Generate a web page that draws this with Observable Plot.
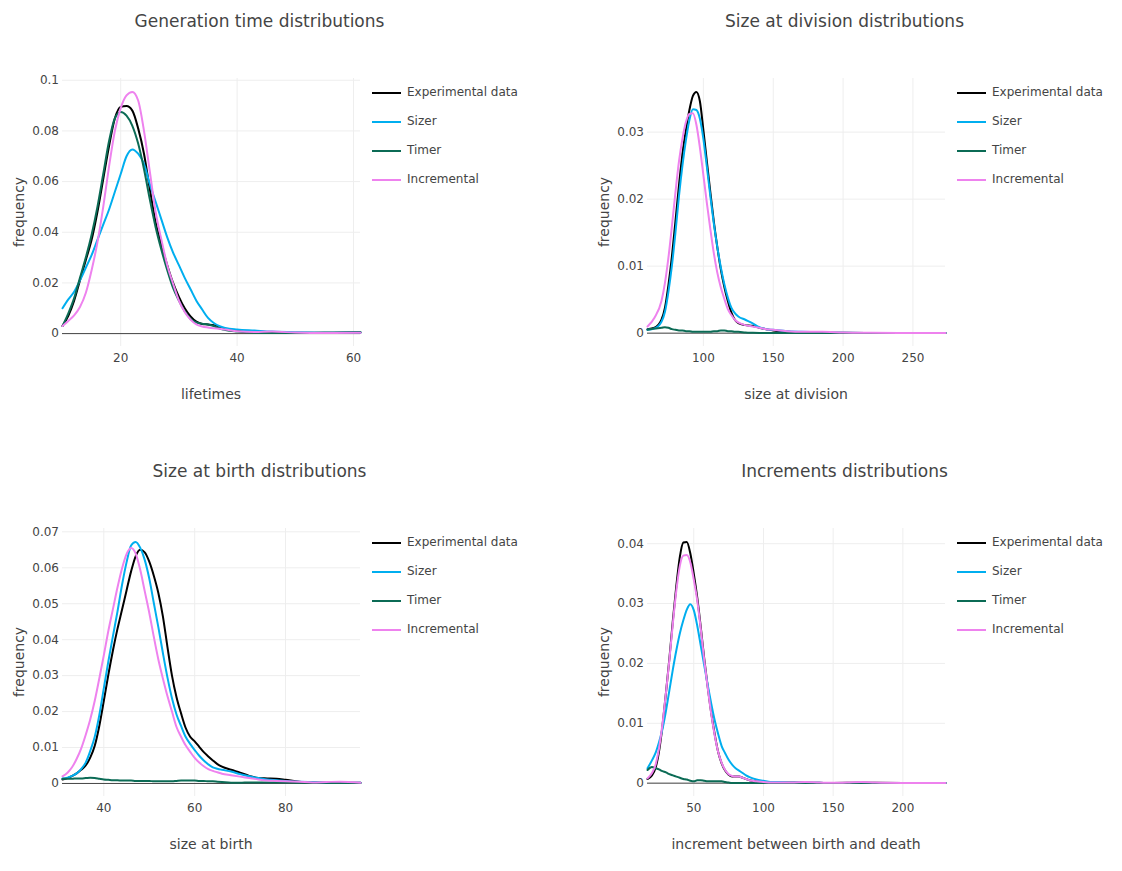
<!DOCTYPE html>
<html>
<head>
<meta charset="utf-8">
<script src="https://cdn.jsdelivr.net/npm/d3@7"></script>
<script src="https://cdn.jsdelivr.net/npm/@observablehq/plot@0.6"></script>
<style>
  body { margin: 0; background: #fff; }
  #root { position: relative; width: 1122px; height: 871px; font-family: "DejaVu Sans", Verdana, sans-serif; color: #444; }
  .panel { position: absolute; }
  .title { position: absolute; font-size: 17px; white-space: nowrap; transform: translate(-50%, -50%); }
  .xtitle { position: absolute; font-size: 14px; white-space: nowrap; transform: translate(-50%, -50%); }
  .ytitle { position: absolute; font-size: 14px; white-space: nowrap; transform: translate(-50%, -50%) rotate(-90deg); }
  .legend { position: absolute; font-size: 12px; }
  .legend .row { position: absolute; left: 0; height: 20px; white-space: nowrap; }
  .legend svg { position: absolute; left: 0; top: 0; }
  .legend span { position: absolute; left: 35px; top: 2px; }
</style>
</head>
<body>
<div id="root"></div>
<script>
// ---- series ----
const seriesNames = ["Experimental data", "Sizer", "Timer", "Incremental"];
const seriesColors = ["#000000", "#00aeef", "#0b6b55", "#ee82ee"];

// ---- Generation time (lifetimes) ----
const genX = [10,11,12,13,14,15,16,17,18,19,20,21,22,23,24,25,26,27,28,29,30,31,32,33,34,35,36,37,38,40,43,46,50,55,61.2];
const genExp = [0.003,0.007,0.013,0.021,0.029,0.037,0.048,0.061,0.074,0.085,0.0895,0.0898,0.088,0.081,0.071,0.057,0.044,0.035,0.027,0.020,0.0145,0.010,0.0068,0.0047,0.0038,0.0036,0.0033,0.0024,0.0017,0.0012,0.0008,0.0005,0.0003,0.0003,0.0004];
const genSizer = [0.010,0.0135,0.0165,0.021,0.026,0.031,0.037,0.043,0.049,0.056,0.063,0.070,0.0727,0.071,0.067,0.059,0.052,0.045,0.038,0.032,0.027,0.022,0.0175,0.013,0.0095,0.0062,0.0042,0.0029,0.0022,0.0016,0.0012,0.0008,0.0005,0.0003,0.0004];
const genTimer = [0.003,0.008,0.014,0.022,0.030,0.039,0.050,0.063,0.076,0.085,0.0875,0.086,0.082,0.075,0.065,0.053,0.042,0.033,0.025,0.018,0.013,0.0088,0.0058,0.0044,0.0039,0.0036,0.0030,0.0020,0.0014,0.0008,0.0003,0.0002,0.0002,0.0003,0.0005];
const genIncr = [0.003,0.005,0.0072,0.0105,0.016,0.025,0.036,0.050,0.066,0.080,0.089,0.094,0.0954,0.092,0.080,0.064,0.048,0.037,0.027,0.0197,0.013,0.0085,0.0055,0.0036,0.0028,0.0024,0.0021,0.0019,0.0016,0.0009,0.0006,0.0008,0.0004,0.0002,0.0003];
const genXTicks = [20, 40, 60];
const genYTicks = [0, 0.02, 0.04, 0.06, 0.08, 0.1];

// ---- Size at division ----
const divX = [60,65,70,72.5,75,77.5,80,82.5,85,87.5,90,92.5,95,97.5,100,102.5,105,107.5,110,112.5,115,117.5,120,122.5,125,130,135,140,145,150,160,170,185,200,220,240,273.3];
const divExp = [0.0006,0.0008,0.0020,0.0038,0.0072,0.0115,0.0167,0.0220,0.0267,0.0303,0.0333,0.0354,0.0360,0.0346,0.0303,0.0256,0.0210,0.0166,0.0128,0.0095,0.0069,0.0048,0.0031,0.0020,0.0015,0.0012,0.0011,0.0008,0.0006,0.0004,0.0002,0.0001,0.0001,0.00005,0.00003,0.00002,0.00002];
const divSizer = [0.0005,0.0007,0.0017,0.0032,0.0062,0.0101,0.0150,0.0204,0.0250,0.0288,0.0318,0.0334,0.0333,0.0320,0.0290,0.0248,0.0204,0.0163,0.0128,0.0098,0.0073,0.0053,0.0038,0.0030,0.0025,0.0020,0.0015,0.0009,0.0006,0.0005,0.0003,0.0002,0.0001,0.00005,0.00003,0.00002,0.00002];
const divTimer = [0.0005,0.0007,0.0008,0.0009,0.0008,0.0006,0.0005,0.0004,0.0004,0.0003,0.0003,0.0002,0.0002,0.0002,0.0002,0.0002,0.0002,0.0003,0.0003,0.0004,0.0004,0.0003,0.0003,0.0002,0.0002,0.0001,0.00005,0.00002,0.00001,0.00001,0.00001,0.00001,0.00001,0.00001,0.00001,0.00001,0.00001];
const divIncr = [0.0010,0.0023,0.0048,0.0075,0.0113,0.0160,0.0210,0.0256,0.0290,0.0315,0.0327,0.0328,0.0311,0.0277,0.0236,0.0194,0.0155,0.0119,0.0090,0.0068,0.0051,0.0036,0.0027,0.0020,0.0016,0.0012,0.0010,0.0008,0.0006,0.0005,0.0003,0.0002,0.0002,0.0001,0.00005,0.00003,0.00003];
const divXTicks = [100, 150, 200, 250];
const divYTicks = [0, 0.01, 0.02, 0.03];

// ---- Size at birth ----
const birthX = [30.9,32,33,34,35,36,37,38,39,40,41,42,43,44,45,46,47,48,49,50,51,52,53,54,55,56,57,58,59,60,61,62,63,64,65,66,68,70,72,74,76,78,80,83,86,89,92,96.5];
const birthExp = [0.0011,0.0015,0.0021,0.0028,0.0038,0.0050,0.0072,0.0105,0.0160,0.0230,0.0303,0.0370,0.0430,0.0483,0.0537,0.0590,0.0632,0.0650,0.0643,0.0617,0.0578,0.0530,0.0465,0.0380,0.0300,0.0240,0.0195,0.0155,0.0130,0.0117,0.0102,0.0087,0.0075,0.0064,0.0054,0.0047,0.0038,0.0030,0.0021,0.0015,0.0014,0.0013,0.0010,0.0005,0.0003,0.0002,0.0002,0.0002];
const birthSizer = [0.0014,0.0016,0.0021,0.0028,0.0040,0.0058,0.0090,0.0130,0.0190,0.0265,0.0340,0.0410,0.0478,0.0552,0.0615,0.0662,0.0672,0.0656,0.0622,0.0570,0.0502,0.0435,0.0363,0.0295,0.0237,0.0192,0.0160,0.0130,0.0110,0.0093,0.0077,0.0064,0.0053,0.0045,0.0041,0.0038,0.0033,0.0026,0.0020,0.0015,0.0011,0.0009,0.0007,0.0005,0.0004,0.0003,0.0003,0.0002];
const birthTimer = [0.0013,0.0013,0.0013,0.0014,0.0014,0.0015,0.0016,0.0015,0.0013,0.0011,0.0010,0.0009,0.0009,0.0008,0.0008,0.0008,0.0007,0.0007,0.0007,0.0007,0.0006,0.0006,0.0006,0.0006,0.0006,0.0007,0.0008,0.0008,0.0008,0.0008,0.0007,0.0007,0.0006,0.0006,0.0005,0.0004,0.0002,0.0002,0.0003,0.0003,0.0003,0.0003,0.0003,0.0002,0.0002,0.0002,0.0001,0.0001];
const birthIncr = [0.0020,0.0030,0.0045,0.0068,0.0097,0.0135,0.0178,0.0230,0.0292,0.0357,0.0425,0.0485,0.0545,0.0598,0.0638,0.0655,0.0640,0.0595,0.0535,0.0475,0.0408,0.0345,0.0292,0.0243,0.0200,0.0157,0.0130,0.0106,0.0088,0.0071,0.0058,0.0048,0.0040,0.0035,0.0031,0.0027,0.0023,0.0019,0.0015,0.0011,0.0008,0.0007,0.0006,0.0005,0.0003,0.0004,0.0005,0.0002];
const birthXTicks = [40, 60, 80];
const birthYTicks = [0, 0.01, 0.02, 0.03, 0.04, 0.05, 0.06, 0.07];

// ---- Increments ----
const incX = [16.8,20,22.5,25,27.5,30,32.5,35,37.5,40,42.5,45,47.5,50,52.5,55,57.5,60,62.5,65,67.5,70,72.5,75,77.5,80,82.5,85,87.5,90,95,100,105,110,120,130,140,150,160,170,180,200,215,230.6];
const incExp = [0.0007,0.0013,0.0025,0.0052,0.0095,0.0150,0.0208,0.0272,0.0330,0.0378,0.0402,0.0403,0.0384,0.0350,0.0310,0.0261,0.0208,0.0161,0.0118,0.0082,0.0052,0.0033,0.0021,0.0014,0.0011,0.0011,0.0011,0.0009,0.0007,0.0005,0.0003,0.0002,0.0001,0.0001,0.0001,0.0001,0.00005,0.00003,0.00005,0.0001,0.00005,0.00002,0.00002,0.00002];
const incSizer = [0.0025,0.0038,0.0050,0.0068,0.0090,0.0120,0.0155,0.0190,0.0222,0.0250,0.0272,0.0290,0.0299,0.0289,0.0263,0.0230,0.0197,0.0164,0.0133,0.0105,0.0082,0.0062,0.0050,0.0039,0.0031,0.0025,0.0021,0.0017,0.0013,0.0010,0.0006,0.0004,0.0002,0.0002,0.0001,0.0001,0.00005,0.00003,0.00003,0.00003,0.00002,0.00002,0.00002,0.00002];
const incTimer = [0.0022,0.0027,0.0025,0.0023,0.0020,0.0018,0.0015,0.0013,0.0011,0.0009,0.0007,0.0006,0.0004,0.0003,0.0005,0.0005,0.0004,0.0003,0.0003,0.0003,0.0003,0.0003,0.0002,0.0001,0.00002,0.00001,0.00001,0.00001,0.00001,0.00001,0.00001,0.00001,0.00001,0.00001,0.00001,0.00001,0.00001,0.00001,0.00001,0.00001,0.00001,0.00001,0.00001,0.00001];
const incIncr = [0.0008,0.0017,0.0030,0.0057,0.0098,0.0150,0.0206,0.0267,0.0322,0.0363,0.0380,0.0381,0.0369,0.0340,0.0305,0.0258,0.0206,0.0159,0.0116,0.0080,0.0052,0.0034,0.0022,0.0015,0.0012,0.0011,0.0011,0.0009,0.0007,0.0005,0.0003,0.0002,0.0001,0.0001,0.0001,0.0002,0.0001,0.00005,0.0001,0.0002,0.0001,0.00003,0.00002,0.00002];
const incXTicks = [50, 100, 150, 200];
const incYTicks = [0, 0.01, 0.02, 0.03, 0.04];

const panels = [
  {left: 0,   top: 40,  title: "Generation time distributions", xTitle: "lifetimes", xs: genX, ys: [genExp, genSizer, genTimer, genIncr], xTicks: genXTicks, yTicks: genYTicks},
  {left: 585, top: 40,  title: "Size at division distributions", xTitle: "size at division", xs: divX, ys: [divExp, divSizer, divTimer, divIncr], xTicks: divXTicks, yTicks: divYTicks},
  {left: 0,   top: 490, title: "Size at birth distributions", xTitle: "size at birth", xs: birthX, ys: [birthExp, birthSizer, birthTimer, birthIncr], xTicks: birthXTicks, yTicks: birthYTicks},
  {left: 585, top: 490, title: "Increments distributions", xTitle: "increment between birth and death", xs: incX, ys: [incExp, incSizer, incTimer, incIncr], xTicks: incXTicks, yTicks: incYTicks}
];

const root = document.getElementById("root");
const W = 364, H = 370, ML = 62, MR = 4, MT = 38, MB = 64;

for (const p of panels) {
  const rows = seriesNames.flatMap((name, i) => p.ys[i].map((y, j) => ({x: p.xs[j], y, series: name})));
  const all = p.ys.flat();
  const lo = d3.min(all), hi = d3.max(all);
  const span = (hi - lo) / 0.9;
  const yDomain = [lo - 0.05 * span, hi + 0.05 * span];
  const xDomain = d3.extent(p.xs);

  const chart = Plot.plot({
    width: W, height: H,
    marginLeft: ML, marginRight: MR, marginTop: MT, marginBottom: MB,
    style: {fontFamily: "'DejaVu Sans', Verdana, sans-serif", fontSize: "12px", color: "#444", background: "transparent", overflow: "visible"},
    x: {domain: xDomain},
    y: {domain: yDomain},
    color: {domain: seriesNames, range: seriesColors},
    marks: [
      Plot.gridX(p.xTicks, {stroke: "#eeeeee", strokeOpacity: 1, strokeWidth: 1}),
      Plot.gridY(p.yTicks, {stroke: "#eeeeee", strokeOpacity: 1, strokeWidth: 1}),
      Plot.ruleY([0], {stroke: "#444444", strokeWidth: 1}),
      Plot.line(rows, {x: "x", y: "y", z: "series", stroke: "series", strokeWidth: 2, curve: "monotone-x"}),
      Plot.axisX({ticks: p.xTicks, tickSize: 0, tickPadding: 7, label: null, fontSize: 12}),
      Plot.axisY({ticks: p.yTicks, tickFormat: d3.format("~g"), tickSize: 0, tickPadding: 3.5, label: null, fontSize: 12})
    ]
  });
  const wrap = document.createElement("div");
  wrap.className = "panel";
  wrap.style.left = p.left + "px";
  wrap.style.top = p.top + "px";
  wrap.appendChild(chart);
  root.appendChild(wrap);

  const plotCx = p.left + ML + (W - ML - MR) / 2;
  const plotCy = p.top + MT + (H - MT - MB) / 2;

  const t = document.createElement("div");
  t.className = "title";
  t.textContent = p.title;
  t.style.left = (p.left + 259.5) + "px";
  t.style.top = (p.top - 19) + "px";
  root.appendChild(t);

  const xt = document.createElement("div");
  xt.className = "xtitle";
  xt.textContent = p.xTitle;
  xt.style.left = plotCx + "px";
  xt.style.top = (p.top + 354) + "px";
  root.appendChild(xt);

  const yt = document.createElement("div");
  yt.className = "ytitle";
  yt.textContent = "frequency";
  yt.style.left = (p.left + 19) + "px";
  yt.style.top = plotCy + "px";
  root.appendChild(yt);

  const lg = document.createElement("div");
  lg.className = "legend";
  lg.style.left = (p.left + 372) + "px";
  lg.style.top = (p.top + 43) + "px";
  seriesNames.forEach((name, i) => {
    const row = document.createElement("div");
    row.className = "row";
    row.style.top = (i * 29) + "px";
    row.innerHTML = `<svg width="30" height="20"><line x1="0" x2="29" y1="10" y2="10" stroke="${seriesColors[i]}" stroke-width="2"/></svg><span>${name}</span>`;
    lg.appendChild(row);
  });
  root.appendChild(lg);
}
</script>
</body>
</html>
